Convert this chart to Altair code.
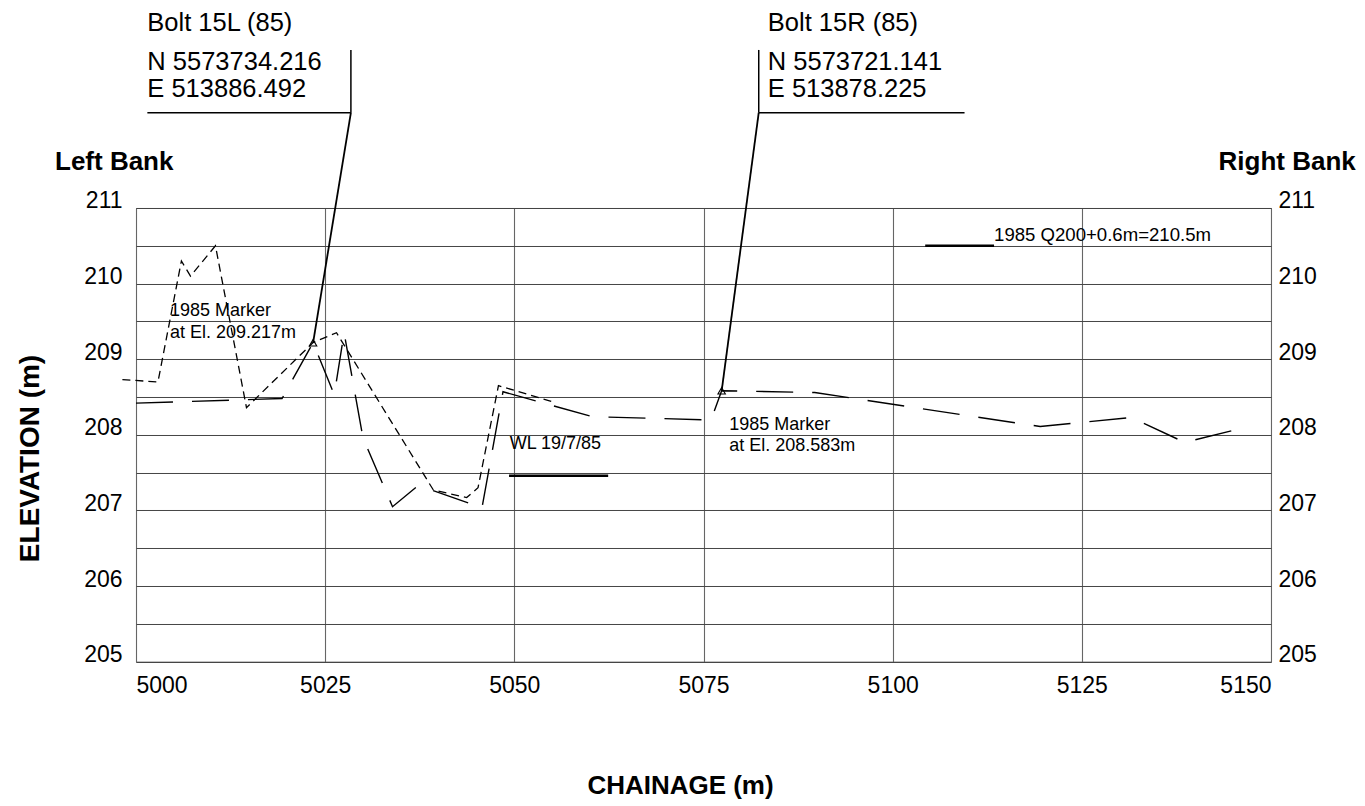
import altair as alt
import pandas as pd

FONT = "Liberation Sans"

# ---- axis ticks ----
x_ticks = [5000, 5025, 5050, 5075, 5100, 5125, 5150]
y_ticks = [205, 206, 207, 208, 209, 210, 211]
y_grid = [205, 205.5, 206, 206.5, 207, 207.5, 208, 208.5, 209, 209.5, 210, 210.5, 211]

# ---- survey profile, short dashes ----
short_ch = [4998.2, 5002.9, 5006.0, 5007.2, 5010.5, 5014.6, 5023.4, 5026.5,
            5039.3, 5043.7, 5045.2, 5047.9, 5055.0]
short_el = [208.73, 208.70, 210.30, 210.10, 210.50, 208.36, 209.22, 209.35,
            207.27, 207.17, 207.30, 208.65, 208.44]

# ---- survey profile, long dashes ----
long_ch = [5000.0, 5019.3, 5023.4, 5026.2, 5027.5, 5030.0, 5033.9, 5037.3,
           5044.2, 5045.7, 5048.5, 5060.3, 5074.9, 5076.0, 5077.4, 5089.7,
           5119.5, 5131.5, 5138.6, 5146.3]
long_el = [208.42, 208.48, 209.22, 208.53, 209.35, 207.96, 207.05, 207.33,
           207.09, 207.02, 208.57, 208.24, 208.20, 208.20, 208.583, 208.56,
           208.11, 208.23, 207.90, 208.09]

# ---- 1985 markers ----
marker_ch = [5023.4, 5077.4]
marker_el = [209.217, 208.583]

# ---- annotation segments ----
seg_x = [5001.5, 5028.4, 5028.4, 5082.3, 5082.3, 5082.3, 5049.3, 5104.3]
seg_y = [212.26, 213.09, 212.26, 212.26, 213.09, 212.26, 207.46, 210.5]
seg_x2 = [5028.4, 5028.4, 5023.4, 5109.5, 5082.3, 5077.4, 5062.4, 5113.4]
seg_y2 = [212.26, 212.26, 209.217, 212.26, 212.26, 208.583, 207.46, 210.5]
seg_w = [1.5, 1.5, 1.8, 1.5, 1.5, 1.8, 2.6, 2.6]

# ---- annotation texts ----
big_text = ["Bolt 15L (85)", "N 5573734.216", "E 513886.492",
            "Bolt 15R (85)", "N 5573721.141", "E 513878.225"]
big_ch = [5001.5, 5001.5, 5001.5, 5083.5, 5083.5, 5083.5]
big_el = [213.345, 212.83, 212.47, 213.345, 212.83, 212.47]

small_text = ["1985 Marker", "at El. 209.217m", "1985 Marker", "at El. 208.583m",
              "WL 19/7/85", "1985 Q200+0.6m=210.5m"]
small_ch = [5004.5, 5004.5, 5078.4, 5078.4, 5049.4, 5113.4]
small_el = [209.575, 209.284, 208.067, 207.78, 207.81, 210.57]
small_fs = [18, 18, 18, 18, 18, 18.6]

bank_text = ["Left Bank", "Right Bank"]
bank_ch = [4989.3, 5161.2]
bank_el = [211.507, 211.507]

# ---- scales / axes ----
xs = alt.Scale(domain=[5000, 5150], nice=False, zero=False)
ys = alt.Scale(domain=[205, 211], nice=False, zero=False)

x_axis = alt.Axis(values=x_ticks, format="d", grid=True, gridColor="#666", gridWidth=1.1,
                  ticks=False, tickSize=0, domain=False, labelFont=FONT,
                  labelFontSize=23, labelColor="black", labelPadding=13,
                  title="CHAINAGE (m)", titleFont=FONT, titleFontSize=26,
                  titleFontWeight="bold", titleColor="black", titleX=544,
                  titleY=132, titleAlign="center", titleBaseline="alphabetic")
y_left = alt.Axis(values=y_grid,
                  labelExpr="datum.value % 1 == 0 ? format(datum.value, 'd') : ''",
                  grid=True, gridColor="#444", gridWidth=1, ticks=False, tickSize=0,
                  domain=False, labelFont=FONT, labelFontSize=23, labelColor="black",
                  labelPadding=14, labelBaseline="alphabetic",
                  title="ELEVATION (m)", titleFont=FONT, titleFontSize=28,
                  titleFontWeight="bold", titleColor="black", titleAngle=270,
                  titleX=-98, titleY=250, titleAlign="center", titleBaseline="alphabetic")
y_right = alt.Axis(orient="right", values=y_ticks, grid=False, ticks=False, tickSize=0,
                   domain=False, labelFont=FONT, labelFontSize=23, labelColor="black",
                   labelPadding=7, labelBaseline="alphabetic", labelAlign="left", title=None)

long_df = pd.DataFrame({"c": long_ch, "e": long_el, "i": list(range(len(long_ch)))})
short_df = pd.DataFrame({"c": short_ch, "e": short_el, "i": list(range(len(short_ch)))})
mark_df = pd.DataFrame({"c": marker_ch, "e": marker_el})
seg_df = pd.DataFrame({"c": seg_x, "e": seg_y, "c2": seg_x2, "e2": seg_y2, "w": seg_w})
big_df = pd.DataFrame({"c": big_ch, "e": big_el, "t": big_text})
small_df = pd.DataFrame({"c": small_ch, "e": small_el, "t": small_text, "fs": small_fs})
bank_df = pd.DataFrame({"c": bank_ch, "e": bank_el, "t": bank_text})


def xa():
    return alt.X("c:Q", scale=xs, axis=x_axis)


def yn():
    return alt.Y("e:Q", scale=ys, axis=None)


long_line = alt.Chart(long_df).mark_line(
    color="black", strokeWidth=1.4, strokeDash=[37, 19], clip=False
).encode(x=xa(), y=alt.Y("e:Q", scale=ys, axis=y_left), order="i:Q")

short_line = alt.Chart(short_df).mark_line(
    color="black", strokeWidth=1.3, strokeDash=[8, 5], clip=False
).encode(x=xa(), y=alt.Y("e:Q", scale=ys, axis=y_right), order="i:Q")

segs = alt.Chart(seg_df).mark_rule(color="black", clip=False).encode(
    x=xa(), y=yn(), x2="c2:Q", y2="e2:Q",
    strokeWidth=alt.StrokeWidth("w:Q", scale=None),
)

markers = alt.Chart(mark_df).mark_point(
    shape="triangle-up", size=55, color="black", filled=False, strokeWidth=1.1, opacity=1
).encode(x=xa(), y=yn())

big_txt = alt.Chart(big_df).mark_text(
    align="left", baseline="alphabetic", font=FONT, fontSize=25.5, color="black"
).encode(x=xa(), y=yn(), text="t:N")

small_txt = alt.Chart(small_df).mark_text(
    align="left", baseline="alphabetic", font=FONT, color="black"
).encode(x=xa(), y=yn(), text="t:N", size=alt.Size("fs:Q", scale=None))

left_bank = alt.Chart(bank_df.iloc[[0]]).mark_text(
    align="left", baseline="alphabetic", font=FONT, fontSize=26,
    fontWeight="bold", color="black"
).encode(x=xa(), y=yn(), text="t:N")

right_bank = alt.Chart(bank_df.iloc[[1]]).mark_text(
    align="right", baseline="alphabetic", font=FONT, fontSize=26,
    fontWeight="bold", color="black"
).encode(x=xa(), y=yn(), text="t:N")

chart = alt.layer(
    long_line, short_line, segs, markers, big_txt, small_txt, left_bank, right_bank
).resolve_axis(y="independent").properties(
    width=1135, height=453.7,
    autosize=alt.AutoSizeParams(type="none"),
    padding={"left": 128, "top": 200, "right": 86, "bottom": 138},
    background="white",
).configure_view(stroke="#444", strokeWidth=1)

chart.save("out.html", embed_options={"renderer": "svg", "actions": False})
